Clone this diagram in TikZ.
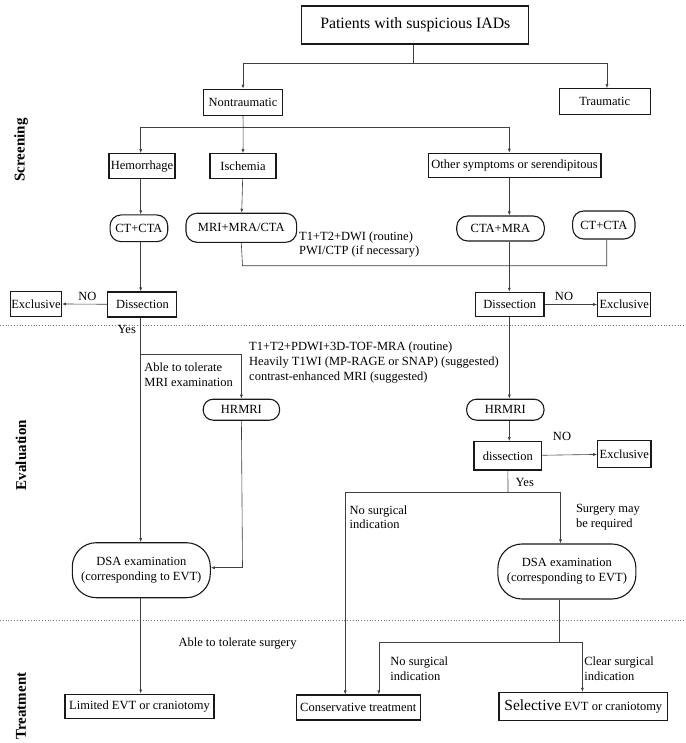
\documentclass[tikz,border=0pt]{standalone}
\usepackage{fontspec}
\setmainfont{Liberation Serif}
\usetikzlibrary{arrows.meta}
\begin{document}
\begin{tikzpicture}[x=1pt,y=-1pt,
  box/.style={draw=black!90,line width=1.1pt,inner sep=0pt,minimum width=#1,font=\fontsize{12.5}{14}\selectfont},
  rbox/.style={draw=black!90,line width=1.1pt,inner sep=0pt,rounded corners=11pt,minimum width=#1,font=\fontsize{12.5}{14}\selectfont},
  dsabox/.style={draw=black!90,line width=1.1pt,inner sep=0pt,rounded corners=24pt,minimum width=138pt,minimum height=55pt,align=center,font=\fontsize{12.5}{15}\selectfont},
  lbl/.style={inner sep=0pt,anchor=west,align=left,font=\fontsize{12.5}{14.6}\selectfont},
  side/.style={inner sep=0pt,rotate=90,font=\fontsize{15}{15}\selectfont\bfseries},
  conn/.style={draw=black!75,line width=0.6pt},
  arr/.style={conn,-{Latex[length=4pt,width=3pt]}},
  sep/.style={draw=black!55,line width=0.8pt,dotted}]
\useasboundingbox (0,0) rectangle (685,743);
% separators
\draw[sep] (0,325.3) -- (685,325.3);
\draw[sep] (0,620) -- (685,620);
% side labels
\node[side] (scr) at (21,150) {Screening};
\node[side] (eva) at (21,455) {Evaluation};
\node[side] (tre) at (21,706) {Treatment};
% screening
\node[box=227pt,minimum height=38pt,line width=1.3pt,font=\fontsize{15.8}{17}\selectfont] (title) at (415.3,25) {Patients with suspicious IADs};
\node[box=79.5pt,minimum height=26pt] (nontr) at (243,102.3) {Nontraumatic};
\node[box=91pt,minimum height=26pt] (trau) at (604.7,101.7) {Traumatic};
\node[box=66pt,minimum height=25pt] (hem) at (142,166.2) {Hemorrhage};
\node[box=66pt,minimum height=25pt] (isch) at (243,166.2) {Ischemia};
\node[box=172.7pt,minimum height=24pt] (other) at (514.6,165.3) {Other symptoms or serendipitous};
\node[rbox=57.7pt,minimum height=26.7pt] (ct1) at (138.9,228.3) {CT+CTA};
\node[rbox=110.7pt,minimum height=29pt] (mri) at (241.3,227.8) {MRI+MRA/CTA};
\node[rbox=87.6pt,minimum height=25pt] (ctamra) at (500.5,228.5) {CTA+MRA};
\node[rbox=62.3pt,minimum height=28pt] (ct2) at (603.8,225) {CT+CTA};
\node[lbl] (dwi) at (299,244.5) {T1+T2+DWI (routine)\\PWI/CTP (if necessary)};
\node[box=69pt,minimum height=25pt] (diss1) at (142.4,304.5) {Dissection};
\node[box=51pt,minimum height=25.5pt] (ex1) at (36,303.8) {Exclusive};
\node[box=68.3pt,minimum height=24.4pt] (dissR) at (509.8,304.5) {Dissection};
\node[box=53pt,minimum height=24.4pt] (exR) at (624.2,304.5) {Exclusive};
\node[lbl,anchor=center] (no1) at (87.4,296) {NO};
\node[lbl,anchor=center] (no2) at (564,296) {NO};
\node[lbl] (yes1) at (117.5,329.3) {Yes};
% evaluation
\node[lbl] (tol) at (144.2,374.5) {Able to tolerate\\MRI examination};
\node[lbl] (pdwi) at (249,362.5) {T1+T2+PDWI+3D-TOF-MRA (routine)\\Heavily T1WI (MP-RAGE or SNAP) (suggested)\\contrast-enhanced MRI (suggested)};
\node[rbox=76.4pt,minimum height=21pt,rounded corners=10pt] (hr1) at (241.4,409.7) {HRMRI};
\node[rbox=77.4pt,minimum height=21pt,rounded corners=10pt] (hrR) at (505.3,409.7) {HRMRI};
\node[box=67.8pt,minimum height=28.3pt] (diss2) at (507.9,455.8) {dissection};
\node[box=53.3pt,minimum height=26.7pt] (ex3) at (624.3,454) {Exclusive};
\node[lbl,anchor=center] (no3) at (562,436.7) {NO};
\node[lbl] (yes2) at (515.5,482.3) {Yes};
\node[lbl] (nosi1) at (349.5,517.4) {No surgical\\indication};
\node[lbl] (smr) at (575.8,517.4) {Surgery may\\be required};
\node[dsabox] (dsa1) at (141.3,570.2) {DSA examination\\(corresponding to EVT)};
\node[dsabox] (dsa2) at (566.9,571.5) {DSA examination\\(corresponding to EVT)};
% treatment
\node[lbl] (tsurg) at (178.3,644) {Able to tolerate surgery};
\node[lbl] (nosi2) at (390.2,668.7) {No surgical\\indication};
\node[lbl] (csi) at (584.1,668.7) {Clear surgical\\indication};
\node[box=149pt,minimum height=24.3pt] (lim) at (139.5,706.2) {Limited EVT or craniotomy};
\node[box=124pt,minimum height=25pt] (cons) at (358.3,707.5) {Conservative treatment};
\node[box=168.7pt,minimum height=27.7pt] (sel) at (583.3,706.2) {{\fontsize{15.5}{16}\selectfont Selective} EVT or craniotomy};
% coordinates
\coordinate (j1) at (413.5,63.3);
\coordinate (j2) at (243.2,127);
\coordinate (j3) at (242.5,265.7);
\coordinate (j3b) at (606.7,265.7);
\coordinate (j4) at (140.7,354);
\coordinate (j5) at (242.5,567.7);
\coordinate (j6) at (508,492.3);
\coordinate (j7) at (559.2,642.3);
\coordinate (jo) at (509.3,0);
\coordinate (jl) at (140.7,0);
% connectors
\draw[conn] (title.south -| j1) -- (j1);
\draw[arr] (j1) -| (nontr.north);
\draw[arr] (j1) -| (607,0 |- trau.north);
\draw[conn] (nontr.south) -- (j2);
\draw[arr] (j2) -| (jl |- hem.north);
\draw[arr] (j2) -- (isch.north);
\draw[arr] (j2) -| (jo |- other.north);
\draw[arr] (jl |- hem.south) -- (jl |- ct1.north);
\draw[arr] (isch) -- (mri);
\draw[arr] (jo |- other.south) -- (jo |- ctamra.north);
\draw[conn] (mri.south) -- (j3) -- (j3b) -- (j3b |- ct2.south);
\draw[arr] (jo |- ctamra.south) -- (jo |- dissR.north);
\draw[arr] (jl |- ct1.south) -- (jl |- diss1.north);
\draw[arr] (diss1) -- (ex1);
\draw[arr] (dissR) -- (exR);
\draw[arr] (jl |- diss1.south) -- (jl |- dsa1.north);
\draw[arr] (j4) -| (hr1.north);
\draw[conn] (hr1.south) -- (j5);
\draw[arr] (j5) -- (dsa1.east |- j5);
\draw[arr] (jo |- dissR.south) -- (jo |- hrR.north);
\draw[arr] (jo |- hrR.south) -- (jo |- diss2.north);
\draw[arr] (diss2) -- (ex3);
\draw[conn] (diss2.south) -- (j6);
\draw[conn] (j6) -- (345.2,492.3);
\draw[arr] (345.2,492.3) -- (345.2,0 |- cons.north);
\draw[conn] (j6) -- (560.5,492.3);
\draw[arr] (560.5,492.3) -- (560.5,0 |- dsa2.north);
\draw[arr] (jl |- dsa1.south) -- (jl |- lim.north);
\draw[conn] (dsa2.south -| j7) -- (j7);
\draw[conn] (378.8,642.3) -- (582.4,642.3);
\draw[arr] (378.8,642.3) -- (378.8,0 |- cons.north);
\draw[arr] (582.4,642.3) -- (582.4,0 |- sel.north);
\end{tikzpicture}
\end{document}
